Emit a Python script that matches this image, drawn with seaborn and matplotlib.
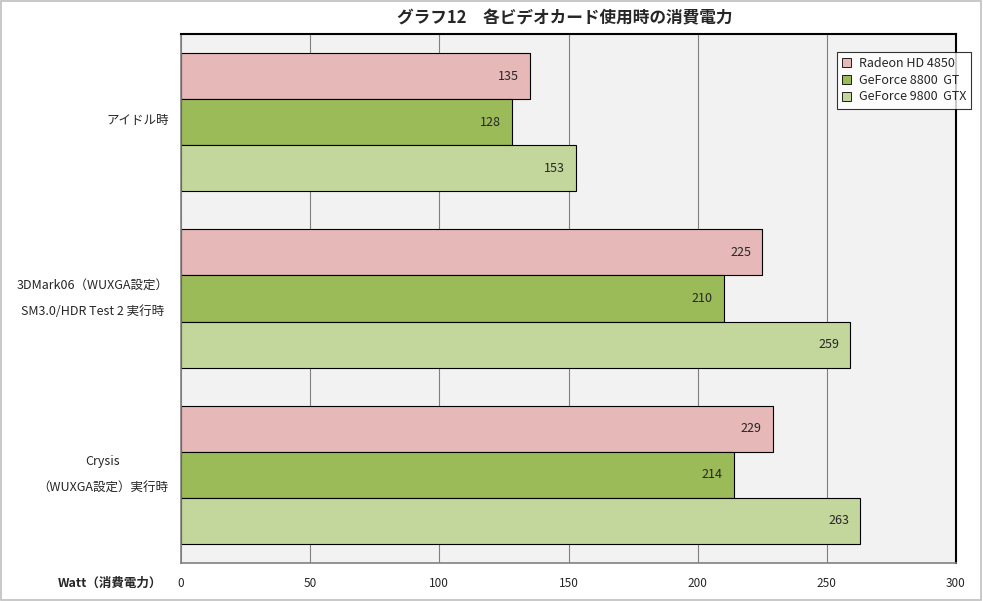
import matplotlib
matplotlib.use("Agg")
import matplotlib.pyplot as plt
import matplotlib.transforms as mtransforms
from matplotlib.patches import Rectangle
import seaborn as sns
import pandas as pd

categories = ["アイドル時", "3DMark06（WUXGA設定）\nSM3.0/HDR Test 2 実行時", "Crysis\n（WUXGA設定）実行時"]
series = ["Radeon HD 4850", "GeForce 8800  GT", "GeForce 9800  GTX"]
radeon_4850 = [135, 225, 229]
geforce_8800gt = [128, 210, 214]
geforce_9800gtx = [153, 259, 263]
colors = ["#E6B8B7", "#9BBB59", "#C3D69B"]
x_ticks = [0, 50, 100, 150, 200, 250, 300]

sns.set_style("white")
plt.rcParams['font.family'] = ['Noto Sans CJK JP', 'DejaVu Sans']

rows = []
for s, vals in zip(series, [radeon_4850, geforce_8800gt, geforce_9800gtx]):
    for c, v in zip(categories, vals):
        rows.append({"cat": c, "series": s, "val": v})
df = pd.DataFrame(rows)

fig = plt.figure(figsize=(9.83, 6.01), dpi=100)
ax = fig.add_axes([181/983, 38/601, (956-181)/983, (563-34)/601])
ax.set_facecolor("#F2F2F2")

sns.barplot(data=df, y="cat", x="val", hue="series", order=categories, hue_order=series,
            palette=colors, orient="h", width=0.784, gap=0, ax=ax,
            edgecolor="black", linewidth=0.8, saturation=1, legend=False)

ax.set_xlim(0, 300)
ax.set_ylim(2.5, -0.5)
ax.set_xticks(x_ticks)
ax.set_xticklabels([str(t) for t in x_ticks], fontsize=8.5)
ax.tick_params(axis='x', length=0, pad=10)
ax.set_yticks(range(len(categories)))
ax.set_yticklabels(categories, fontsize=9, linespacing=2.3, multialignment='center')
ax.tick_params(axis='y', length=0, pad=9)
ax.set_yticks([0.5, 1.5], minor=True)
ax.tick_params(axis='y', which='minor', direction='in', length=5, color='#808080')
ax.set_xlabel("")
ax.set_ylabel("")
ax.grid(axis='x', color='#808080', linewidth=0.8)
ax.set_axisbelow(True)

for lab in ax.get_yticklabels():
    dy = 8 if "\n" in lab.get_text() else 3
    shift = mtransforms.ScaledTranslation(0, dy/100, fig.dpi_scale_trans)
    lab.set_transform(lab.get_transform() + shift)

for side in ['top', 'right']:
    ax.spines[side].set_color('black')
    ax.spines[side].set_linewidth(1.5)
for side in ['left', 'bottom']:
    ax.spines[side].set_color('#808080')
    ax.spines[side].set_linewidth(1.2)

for cont in ax.containers:
    anns = ax.bar_label(cont, padding=-8, fontsize=9)
    for a in anns:
        a.set_ha('right')

handles = [Rectangle((0, 0), 1, 1, facecolor=c, edgecolor='black', linewidth=0.6) for c in colors]
leg = fig.legend(handles, series, loc='upper right', bbox_to_anchor=(971/983, 1 - 52/601),
                 fontsize=9, frameon=True, fancybox=False, edgecolor='black',
                 handlelength=0.7, handleheight=0.7, handletextpad=0.6, borderpad=0.4,
                 labelspacing=0.3, borderaxespad=0)
leg.get_frame().set_linewidth(0.8)

fig.text(565/983, 1 - 18/601, "グラフ12　各ビデオカード使用時の消費電力", ha='center', va='center',
         fontsize=12, fontweight='bold')
fig.text(162/983, 1 - 583/601, "Watt（消費電力）", ha='right', va='center', fontsize=9, fontweight='bold')

fig.patches.append(Rectangle((0.001, 0.001), 0.997, 0.997, transform=fig.transFigure,
                             fill=False, edgecolor='#BFBFBF', linewidth=1.2))

fig.savefig("out.png", dpi=100)
